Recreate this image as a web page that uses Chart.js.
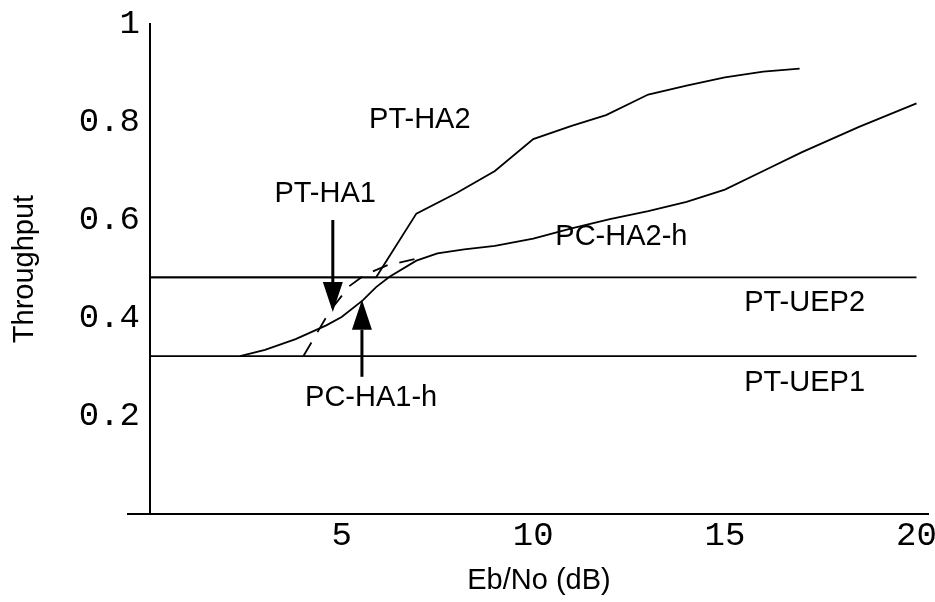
<!DOCTYPE html>
<html>
<head>
<meta charset="utf-8">
<script src="https://cdn.jsdelivr.net/npm/chart.js@4.4.0/dist/chart.umd.min.js"></script>
<style>
  html, body { margin: 0; padding: 0; background: #fff; }
</style>
</head>
<body>
<canvas id="chart" width="935" height="602"></canvas>
<script>
// axis ticks
const xTicks = [5, 10, 15, 20];
const yTicks = [0.2, 0.4, 0.6, 0.8, 1];
const yTickLabels = ['0.2', '0.4', '0.6', '0.8', '1'];

// flat reference curves
const uepX = [0, 20];
const uep2Y = [0.483, 0.483];
const uep1Y = [0.322, 0.322];

// PT-HA2 (follows UEP2, then climbs)
const ptHa2X = [0, 5.9, 6.95, 8.0, 9.0, 10.0, 11.0, 11.9, 13.0, 14.0, 15.0, 16.0, 16.95];
const ptHa2Y = [0.483, 0.483, 0.613, 0.655, 0.70, 0.765, 0.792, 0.814, 0.856, 0.874, 0.891, 0.903, 0.909];

// PC-HA2-h / PC-HA1-h (solid, starts on UEP1)
const pcHa2X = [2.35, 3.0, 3.8, 4.6, 5.0, 5.55, 5.9, 6.25, 6.95, 7.5, 8.2, 9.0, 10.0, 11.0, 12.0, 13.0, 14.0, 15.0, 16.0, 17.0, 18.5, 20.0];
const pcHa2Y = [0.322, 0.335, 0.357, 0.385, 0.402, 0.436, 0.463, 0.484, 0.517, 0.532, 0.540, 0.547, 0.562, 0.583, 0.602, 0.618, 0.637, 0.662, 0.700, 0.738, 0.790, 0.838];

// PT-HA1 (dashed)
const ptHa1X = [4.0, 4.7, 5.2, 5.6, 6.2, 6.9];
const ptHa1Y = [0.322, 0.415, 0.465, 0.488, 0.508, 0.520];

// text labels inside the plot
const labelText = ['PT-HA2', 'PT-HA1', 'PC-HA2-h', 'PT-UEP2', 'PT-UEP1', 'PC-HA1-h'];
const labelX = [7.04, 4.57, 12.3, 17.08, 17.08, 5.77];
const labelY = [0.805, 0.654, 0.565, 0.43, 0.267, 0.237];

// arrows: x, tail value, tip value
const arrowX = [4.77, 5.53];
const arrowFrom = [0.60, 0.28];
const arrowTo = [0.412, 0.437];

const pts = (xs, ys) => xs.map((x, i) => ({x: x, y: ys[i]}));

const line = (label, xs, ys, dash) => ({
  label: label,
  data: pts(xs, ys),
  borderColor: '#000',
  borderWidth: 1.8,
  borderDash: dash || [],
  pointRadius: 0,
  fill: false,
  tension: 0
});

const annotations = {
  id: 'annotations',
  afterDatasetsDraw(chart) {
    const {ctx, chartArea} = chart;
    const x = chart.scales.x, y = chart.scales.y;
    ctx.save();
    ctx.strokeStyle = '#000';
    ctx.fillStyle = '#000';

    // x axis sticks out a bit to the left of the y axis
    const y0 = y.getPixelForValue(0);
    ctx.lineWidth = 2;
    ctx.beginPath();
    ctx.moveTo(chartArea.left - 23, y0);
    ctx.lineTo(chartArea.left, y0);
    ctx.stroke();

    arrowX.forEach((v, i) => {
      const px = x.getPixelForValue(v);
      const a = y.getPixelForValue(arrowFrom[i]);
      const b = y.getPixelForValue(arrowTo[i]);
      const dir = Math.sign(b - a);
      const headLen = 30, half = 10;
      ctx.lineWidth = 3;
      ctx.beginPath();
      ctx.moveTo(px, a);
      ctx.lineTo(px, b - dir * headLen);
      ctx.stroke();
      ctx.beginPath();
      ctx.moveTo(px, b);
      ctx.lineTo(px - half, b - dir * headLen);
      ctx.lineTo(px + half, b - dir * headLen);
      ctx.closePath();
      ctx.fill();
    });

    ctx.font = '29px "Liberation Sans", Arial, sans-serif';
    ctx.textAlign = 'center';
    ctx.textBaseline = 'middle';
    labelText.forEach((t, i) => {
      ctx.fillText(t, x.getPixelForValue(labelX[i]), y.getPixelForValue(labelY[i]));
    });
    ctx.restore();
  }
};

new Chart(document.getElementById('chart'), {
  type: 'line',
  data: {
    datasets: [
      line('PT-UEP2', uepX, uep2Y),
      line('PT-UEP1', uepX, uep1Y),
      line('PT-HA2', ptHa2X, ptHa2Y),
      line('PC-HA2-h', pcHa2X, pcHa2Y),
      line('PT-HA1', ptHa1X, ptHa1Y, [16, 12])
    ]
  },
  options: {
    responsive: false,
    animation: false,
    devicePixelRatio: 1,
    layout: {padding: {left: 0, top: 24, right: 7, bottom: 0}},
    plugins: {
      legend: {display: false},
      tooltip: {enabled: false}
    },
    scales: {
      x: {
        type: 'linear',
        min: 0,
        max: 20.3,
        afterBuildTicks: (s) => { s.ticks = xTicks.map(v => ({value: v})); },
        afterFit: (s) => { s.height = 88; s.paddingLeft = 0; s.paddingRight = 0; },
        grid: {display: false, drawTicks: false},
        border: {display: true, color: '#000', width: 2},
        ticks: {
          color: '#000',
          padding: 2,
          maxRotation: 0,
          autoSkip: false,
          font: {family: '"Liberation Mono", "Courier New", monospace', size: 34}
        },
        title: {
          display: true,
          text: 'Eb/No (dB)',
          color: '#000',
          padding: {top: 0, bottom: 4},
          font: {family: '"Liberation Sans", Arial, sans-serif', size: 29}
        }
      },
      y: {
        type: 'linear',
        min: 0,
        max: 1,
        afterBuildTicks: (s) => { s.ticks = yTicks.map(v => ({value: v})); },
        afterFit: (s) => { s.width = 150; s.paddingTop = 0; s.paddingBottom = 0; },
        grid: {display: false, drawTicks: false},
        border: {display: true, color: '#000', width: 2},
        ticks: {
          color: '#000',
          padding: 10,
          callback: (v) => yTickLabels[yTicks.indexOf(v)],
          font: {family: '"Liberation Mono", "Courier New", monospace', size: 34}
        },
        title: {
          display: true,
          text: 'Throughput',
          color: '#000',
          padding: {top: 8, bottom: 0},
          font: {family: '"Liberation Sans", Arial, sans-serif', size: 29}
        }
      }
    }
  },
  plugins: [annotations]
});
</script>
</body>
</html>
